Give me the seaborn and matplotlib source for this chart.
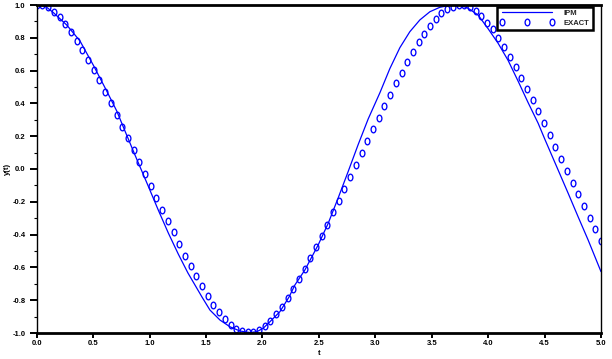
import numpy as np
import pandas as pd
import matplotlib
matplotlib.use("Agg")
import matplotlib.pyplot as plt
from matplotlib.path import Path
from matplotlib.ticker import MultipleLocator, FormatStrFormatter
import seaborn as sns

# ---- data ----
# IPM (solid line)
t_ipm = [0.000, 0.074, 0.147, 0.266, 0.384, 0.501, 0.620, 0.709, 0.782, 0.871,
         0.988, 1.077, 1.166, 1.254, 1.340, 1.464, 1.535, 1.624, 1.712, 1.801,
         1.889, 1.951, 2.007, 2.067, 2.155, 2.237, 2.288, 2.376, 2.494, 2.583,
         2.672, 2.760, 2.849, 2.937, 3.041, 3.129, 3.218, 3.306, 3.395, 3.484,
         3.572, 3.661, 3.750, 3.823, 3.911, 4.000, 4.089, 4.177, 4.266, 4.354,
         4.443, 4.502, 4.620, 4.709, 4.797, 4.886, 5.000]
y_ipm = [1.000, 0.994, 0.954, 0.878, 0.780, 0.634, 0.476, 0.354, 0.232, 0.085,
         -0.104, -0.250, -0.390, -0.518, -0.634, -0.780, -0.860, -0.921, -0.962, -0.988,
         -0.997, -0.992, -0.971, -0.931, -0.870, -0.779, -0.707, -0.616, -0.463, -0.331,
         -0.175, -0.015, 0.150, 0.305, 0.465, 0.612, 0.740, 0.837, 0.909, 0.959,
         0.986, 0.998, 1.000, 0.980, 0.939, 0.855, 0.766, 0.662, 0.535, 0.405,
         0.279, 0.182, -0.006, -0.148, -0.291, -0.433, -0.626]

# EXACT (open circles), 100 samples over [0, 5]
t_exact = np.linspace(0.0, 5.0, 100)
y_exact = [1.000, 0.997, 0.986, 0.955, 0.925, 0.882, 0.835, 0.782, 0.726, 0.665,
           0.605, 0.541, 0.470, 0.402, 0.327, 0.256, 0.191, 0.114, 0.041, -0.029,
           -0.104, -0.177, -0.248, -0.317, -0.386, -0.457, -0.529, -0.591, -0.654, -0.715,
           -0.773, -0.829, -0.874, -0.915, -0.951, -0.976, -0.988, -0.996, -0.992, -0.982,
           -0.955, -0.925, -0.886, -0.840, -0.789, -0.732, -0.671, -0.608, -0.541, -0.476,
           -0.411, -0.340, -0.264, -0.195, -0.122, -0.051, 0.023, 0.098, 0.169, 0.242,
           0.313, 0.382, 0.449, 0.523, 0.585, 0.652, 0.712, 0.773, 0.821, 0.870,
           0.915, 0.949, 0.976, 0.990, 0.999, 0.999, 0.990, 0.962, 0.933, 0.892,
           0.852, 0.797, 0.744, 0.683, 0.620, 0.555, 0.486, 0.423, 0.352, 0.279,
           0.207, 0.136, 0.061, -0.012, -0.084, -0.151, -0.228, -0.299, -0.368, -0.437]

series_labels = ["IPM", "EXACT"]
x_label = "t"
y_label = "y(t)"

df_ipm = pd.DataFrame({"t": t_ipm, "y": y_ipm})
df_exact = pd.DataFrame({"t": t_exact, "y": y_exact})

sns.set_theme(style="white")
plt.rcParams["font.family"] = ["Liberation Sans Narrow", "Liberation Sans", "DejaVu Sans"]

fig = plt.figure(figsize=(6.12, 3.59), dpi=100)
fig.patch.set_facecolor("white")
W, H = 612, 359
x0, x1, ytop, ybot = 36.7, 601.0, 5.0, 333.0
ax = fig.add_axes([x0 / W, 1 - ybot / H, (x1 - x0) / W, (ybot - ytop) / H])
ax.set_facecolor("white")

# vertically elongated open circle marker
circ = Path.unit_circle()
oval = Path(circ.vertices * np.array([0.72, 1.0]), circ.codes)

sns.lineplot(data=df_ipm, x="t", y="y", ax=ax, color="#0000ff", linewidth=0.9,
             label=series_labels[0], sort=False, estimator=None)
sns.lineplot(data=df_exact, x="t", y="y", ax=ax, linestyle="", marker=oval,
             markersize=4.8, markerfacecolor="none", markeredgecolor="#0000ff",
             markeredgewidth=0.95, color="#0000ff", label=series_labels[1],
             sort=False, estimator=None)

ax.set_xlim(0, 5)
ax.set_ylim(-1, 1)
ax.xaxis.set_major_locator(MultipleLocator(0.5))
ax.yaxis.set_major_locator(MultipleLocator(0.2))
ax.yaxis.set_minor_locator(MultipleLocator(0.1))
ax.xaxis.set_major_formatter(FormatStrFormatter("%.1f"))
ax.yaxis.set_major_formatter(FormatStrFormatter("%.1f"))

for side in ["top", "bottom"]:
    ax.spines[side].set_linewidth(2.0)
    ax.spines[side].set_color("black")
for side in ["left", "right"]:
    ax.spines[side].set_linewidth(1.0)
    ax.spines[side].set_color("black")
ax.spines["top"].set_zorder(5)

ax.tick_params(axis="x", which="major", direction="out", length=3.6, width=1.4,
               color="black", pad=1.5, labelsize=5.5, labelcolor="black",
               bottom=True, top=False)
ax.tick_params(axis="y", which="major", direction="out", length=5.0, width=1.4,
               color="black", pad=3.0, labelsize=5.5, labelcolor="black",
               left=True, right=False)
ax.tick_params(axis="y", which="minor", direction="out", length=2.5, width=0.8,
               color="black", left=True, right=False)
for lab in ax.get_xticklabels() + ax.get_yticklabels():
    lab.set_fontweight("bold")

ax.set_xlabel(x_label, fontsize=5.5, fontweight="bold", labelpad=2, color="black")
ax.set_ylabel(y_label, fontsize=5.5, fontweight="bold", labelpad=1, color="black")
ax.grid(False)

leg = ax.legend(loc="upper right", bbox_to_anchor=(0.985, 0.995), numpoints=3,
                handlelength=7.2, handletextpad=1.2, fontsize=5.5, frameon=True,
                fancybox=False, borderpad=0.4, labelspacing=0.3, borderaxespad=0.0,
                prop={"weight": "bold", "size": 5.5})
leg.get_frame().set_edgecolor("black")
leg.get_frame().set_linewidth(1.8)
leg.get_frame().set_facecolor("white")
leg.get_frame().set_alpha(1.0)

fig.savefig("out.png", dpi=100, facecolor="white")
